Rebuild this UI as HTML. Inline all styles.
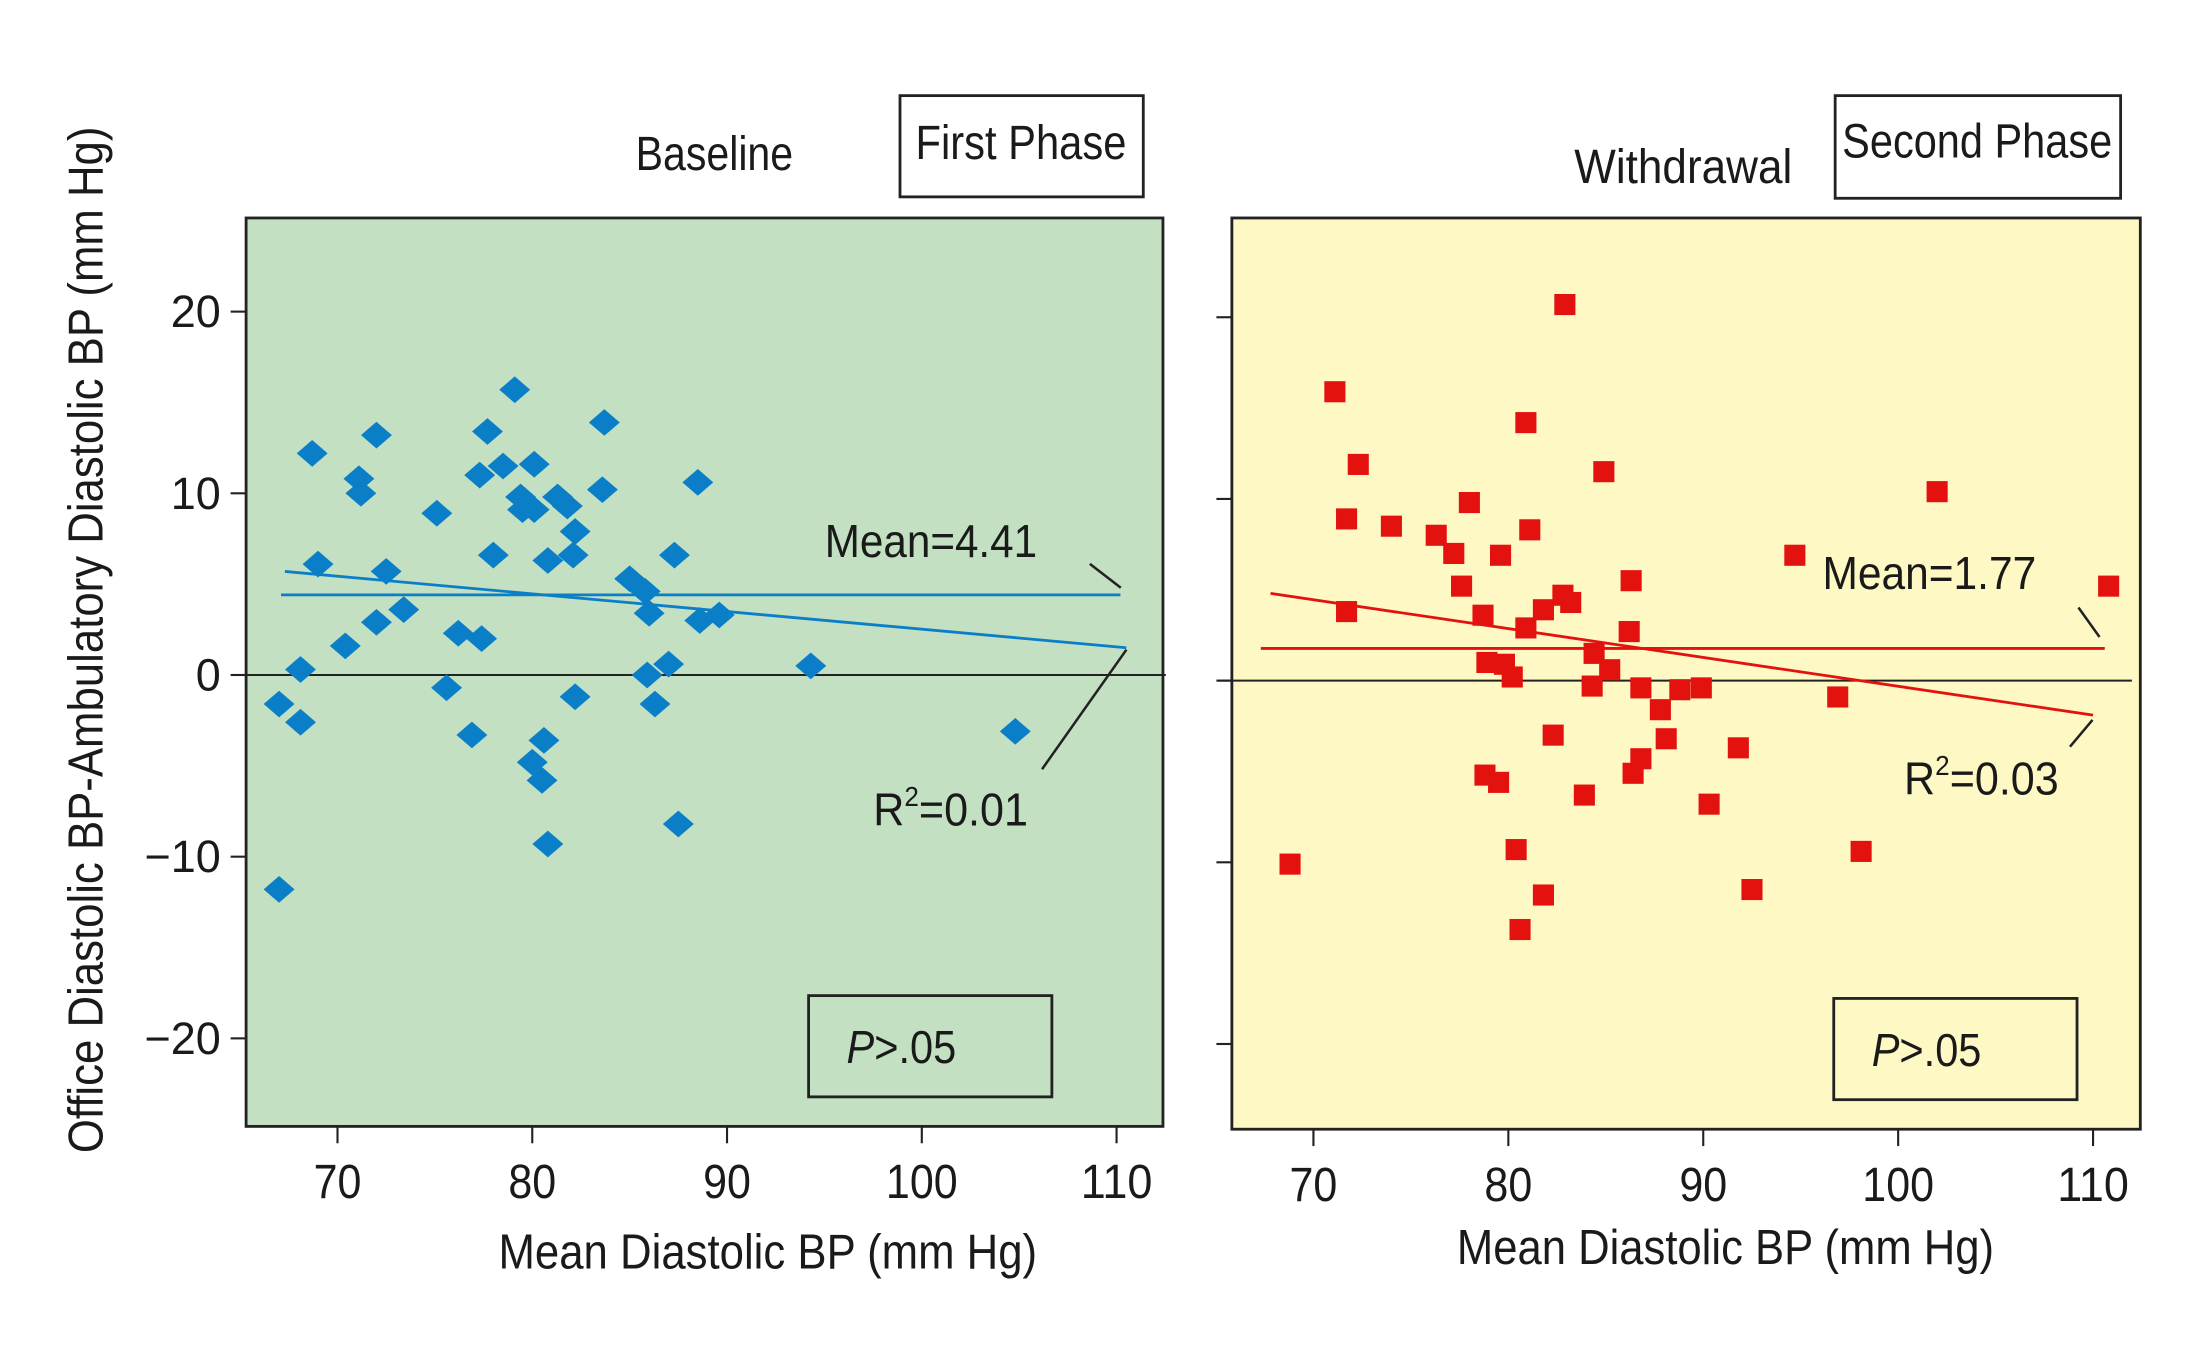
<!DOCTYPE html>
<html><head><meta charset="utf-8"><style>
html,body{margin:0;padding:0;background:#fff;}
svg{display:block;}
text{font-family:"Liberation Sans",sans-serif;fill:#1a1a1a;}
</style></head><body>
<svg id="chart" width="2205" height="1367" viewBox="0 0 1568 972.1" preserveAspectRatio="none" xmlns="http://www.w3.org/2000/svg"></svg>
<script>
// Left panel (Baseline) data
const leftX = [67.0,67.0,68.1,68.1,68.7,69.0,70.4,71.1,71.2,72.0,72.0,72.5,73.4,75.1,75.6,76.2,76.9,77.3,77.4,77.7,78.0,78.5,79.1,79.4,79.5,80.0,80.1,80.1,80.5,80.6,80.8,80.8,81.3,81.8,82.2,82.1,82.2,83.7,83.6,85.0,85.8,86.0,85.9,86.3,87.0,87.3,87.5,88.5,88.6,89.6,94.3,104.8];
const leftY = [-11.8,-1.6,0.3,-2.6,12.2,6.1,1.6,10.8,10.0,2.9,13.2,5.7,3.6,8.9,-0.7,2.3,-3.3,11.0,2.0,13.4,6.6,11.5,15.7,9.8,9.1,-4.8,11.6,9.1,-5.8,-3.6,6.3,-9.3,9.8,9.3,7.9,6.6,-1.2,13.9,10.2,5.3,4.6,3.4,0.0,-1.6,0.6,6.6,-8.2,10.6,3.0,3.3,0.5,-3.1];
const leftMean = [4.41];
const leftMeanRange = [67.1,110.2];
const leftRegX = [67.3,110.5];
const leftRegY = [5.7,1.5];
// Right panel (Withdrawal) data
const rightX = [68.8,71.1,71.7,71.7,72.3,74.0,76.3,77.2,77.6,78.0,78.7,78.8,78.9,79.5,79.6,79.8,80.2,80.4,80.6,80.9,80.9,81.1,81.8,81.8,82.3,82.8,82.9,83.2,83.9,84.3,84.4,84.9,85.2,86.3,86.2,86.4,86.8,86.8,87.8,88.1,88.8,89.9,90.3,91.8,92.5,94.7,96.9,98.1,102.0,110.8];
const rightY = [-10.1,15.9,8.9,3.8,11.9,8.5,8.0,7.0,5.2,9.8,3.6,-5.2,1.0,-5.6,6.9,0.9,0.2,-9.3,-13.7,14.2,2.9,8.3,3.9,-11.8,-3.0,4.7,20.7,4.3,-6.3,-0.3,1.5,11.5,0.6,5.5,2.7,-5.1,-4.3,-0.4,-1.6,-3.2,-0.5,-0.4,-6.8,-3.7,-11.5,6.9,-0.9,-9.4,10.4,5.2];
const rightMean = [1.77];
const rightMeanRange = [67.3,110.6];
const rightRegX = [67.8,110.0];
const rightRegY = [4.8,-1.9];
const xTicks = [70,80,90,100,110];
const yTicks = [20,10,0,-10,-20];
const yTickLabels = ["20","10","0","\u221210","\u221220"];

const NS="http://www.w3.org/2000/svg";
const svg=document.getElementById('chart');
function mk(tag,attrs,parent,txt){const e=document.createElementNS(NS,tag);for(const k in attrs)e.setAttribute(k,attrs[k]);if(txt!==undefined)e.textContent=txt;(parent||svg).appendChild(e);return e;}

function panel(o){
  const sx=v=>o.x0+(v-70)*o.kx;
  const sy=v=>o.y0-v*o.ky;
  const g=mk('g',{});
  
  
  const bg=mk('rect',{x:o.L,y:o.T,width:o.R-o.L,height:o.B-o.T,fill:o.bg,stroke:'#222','stroke-width':2},g);
  
  
  xTicks.forEach(t=>{
    const l=mk('line',{x1:sx(t),x2:sx(t),y1:o.B,y2:o.B+12,stroke:'#222','stroke-width':1.5},g);
    
    
    const s=String(t);
    const tx=mk('text',{x:sx(t),y:o.B+51,'text-anchor':'middle','font-size':34,textLength:s.length*17,lengthAdjust:'spacingAndGlyphs'},g,s);
    
    
  });
  yTicks.forEach((t,i)=>{
    const l=mk('line',{x1:o.L-11,x2:o.L,y1:sy(t),y2:sy(t),stroke:'#222','stroke-width':1.5},g);
    
    
    if(o.ylabels){
      const tx=mk('text',{x:o.L-18,y:sy(t)+11,'text-anchor':'end','font-size':32},g,yTickLabels[i]);
      
      
    }
  });
  const z=mk('line',{x1:o.zx1,x2:o.zx2,y1:sy(0),y2:sy(0),stroke:'#222','stroke-width':1.5},g);
  
  
  o.xs.forEach((xv,i)=>{
    const px=sx(xv),py=sy(o.ys[i]);
    let p;
    if(o.shape==='diamond'){
      p=mk('polygon',{points:`${px-11},${py} ${px},${py-9.5} ${px+11},${py} ${px},${py+9.5}`,fill:o.color},g);
    } else {
      p=mk('rect',{x:px-7.5,y:py-7.5,width:15,height:15,fill:o.color},g);
    }
    
    
  });
  const m=mk('line',{x1:sx(o.meanRange[0]),x2:sx(o.meanRange[1]),y1:sy(o.mean[0]),y2:sy(o.mean[0]),stroke:o.color,'stroke-width':2},g);
  
  
  const r=mk('line',{x1:sx(o.regX[0]),x2:sx(o.regX[1]),y1:sy(o.regY[0]),y2:sy(o.regY[1]),stroke:o.color,'stroke-width':2},g);
  
  
  return {sx,sy,g};
}

panel({name:'baseline-panel',L:175,R:827,T:155,B:801,x0:240,kx:13.85,y0:480,ky:12.92,bg:'#c3e0c3',color:'#0a7fc8',shape:'diamond',xs:leftX,ys:leftY,mean:leftMean,meanRange:leftMeanRange,regX:leftRegX,regY:leftRegY,ylabels:true,zx1:165,zx2:829});
panel({name:'withdrawal-panel',L:876,R:1522,T:155,B:803,x0:934,kx:13.86,y0:484,ky:12.92,bg:'#fef8c4',color:'#e3120f',shape:'square',xs:rightX,ys:rightY,mean:rightMean,meanRange:rightMeanRange,regX:rightRegX,regY:rightRegY,ylabels:false,zx1:866,zx2:1516});

function txt(name,x,y,s,size,len,extra){const t=mk('text',Object.assign({x:x,y:y,'font-size':size,'text-anchor':'middle',textLength:len,lengthAdjust:'spacingAndGlyphs'},extra||{}),svg);t.innerHTML=s;return t;}
function box(name,x,y,w,h){const r=mk('rect',{x:x,y:y,width:w,height:h,fill:'none',stroke:'#222','stroke-width':2});}
function ln(name,x1,y1,x2,y2){const l=mk('line',{x1,y1,x2,y2,stroke:'#222','stroke-width':1.8});}

txt('baseline-title',508,121,'Baseline',34,112);
box('first-phase-box',640,68,173,72);
txt('first-phase-label',726,113,'First Phase',34,150);
txt('withdrawal-title',1197,130,'Withdrawal',34,155);
box('second-phase-box',1305,68,203,73);
txt('second-phase-label',1406,112,'Second Phase',34,192);
txt('mean-annotation',662,396,'Mean=4.41',33,151);
ln('mean-leader',775,401,797,418);
txt('r2-annotation',676,587,'R<tspan font-size="20" dy="-14">2</tspan><tspan dy="14">=0.01</tspan>',33,110);
ln('r2-leader',741,547,801,462);
box('p-value-box-left',575,708,173,72);
txt('p-value-left',641,756,'<tspan font-style="italic">P</tspan>&gt;.05',33,78);
txt('mean-annotation-right',1372,419,'Mean=1.77',33,152);
ln('mean-leader-right',1478,432,1493,453);
txt('r2-annotation-right',1409,565,'R<tspan font-size="20" dy="-14">2</tspan><tspan dy="14">=0.03</tspan>',33,110);
ln('r2-leader-right',1488,512,1472,531);
box('p-value-box-right',1304,710,173,72);
txt('p-value-right',1370,758,'<tspan font-style="italic">P</tspan>&gt;.05',33,78);
txt('x-axis-title-left',546,902,'Mean Diastolic BP (mm Hg)',35,383);
txt('x-axis-title-right',1227,899,'Mean Diastolic BP (mm Hg)',35,382);
txt('y-axis-title',0,0,'Office Diastolic BP-Ambulatory Diastolic BP (mm Hg)',35,730,{transform:'translate(73,455) rotate(-90)'});
</script>
</body></html>
